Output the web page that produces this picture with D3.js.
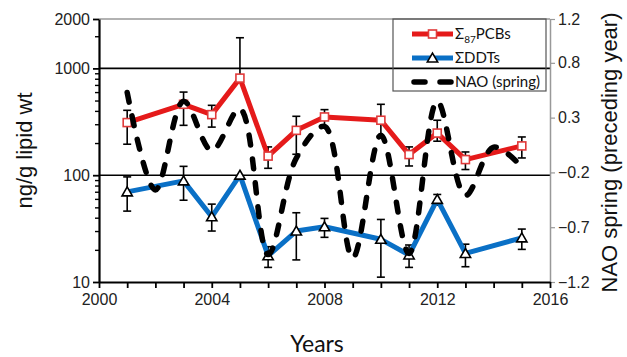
<!DOCTYPE html>
<html><head><meta charset="utf-8">
<script src="https://cdn.jsdelivr.net/npm/d3@7/dist/d3.min.js"></script>
<style>body{margin:0;background:#fff} svg{display:block}</style>
</head><body><svg id="c" width="627" height="357"></svg>
<script>
// ---- data ----
const years   = [2001, 2003, 2004, 2005, 2006, 2007, 2008, 2010, 2011, 2012, 2013, 2015];
const pcb     = [311, 461, 369, 811, 151, 263, 351, 327, 156, 248, 140, 188];
const pcbLow  = [195, 293, 282, null, 116, 157, 279, 230, 122, 208, 113, 145];
const pcbHigh = [405, 600, 451, 1936, 184, 356, 411, 461, 184, 327, 165, 228];
const ddt     = [69.8, 88.5, 40.8, 100, 17.6, 30.0, 32.9, 25.1, 17.9, 59.3, 18.5, 25.9];
const ddtLow  = [46.1, 58.3, 30.0, null, 13.7, 16.1, 26.2, 11.1, 13.7, 52.5, 13.9, 20.2];
const ddtHigh = [96.4, 121, 53.6, null, 21.4, 44.5, 39.4, 38.5, 22.2, 66.0, 22.6, 31.3];
const naoYears = [2001, 2002, 2003, 2004, 2005, 2006, 2007, 2008, 2009, 2010, 2011, 2012, 2013, 2014, 2015];
const nao      = [0.53, -0.36, 0.45, 0.0, 0.38, -0.95, -0.07, 0.22, -0.98, 0.14, -0.94, 0.45, -0.41, 0.03, -0.15];
const xLabelTicks = [2000, 2004, 2008, 2012, 2016];
const xMinorTicks = d3.range(2000, 2017);
const leftTickValues = [10, 100, 1000, 2900];
const leftTickLabels = ["10", "100", "1000", "2000"];
const leftMinorTicks = [20,30,40,50,60,70,80,90,200,300,400,500,600,700,800,900,2000];
const rightTicks = [-1.2, -0.7, -0.2, 0.3, 0.8, 1.2];
const legendLabels = ["PCBs", "ΣDDTs", "NAO (spring)"];

// ---- layout ----
const L = 99, R = 550, T = 19, B = 282;
const svg = d3.select("#c");
const x = d3.scaleLinear().domain([2000, 2016]).range([L, R]);
const yL = d3.scaleLog().domain([10, 2900]).range([B, T]);
const yR = d3.scaleLinear().domain([-1.2, 1.2]).range([B, T]);

const AX = "'Liberation Sans', Arial, sans-serif";
const CAL = "Lato, 'Open Sans', sans-serif";

// frame (top, gray)
svg.append("line").attr("x1", L).attr("x2", R).attr("y1", T).attr("y2", T)
  .attr("stroke", "#999").attr("stroke-width", 1.5);

// gridlines at 100 and 1000
svg.append("g").selectAll("line").data([100, 1000]).join("line")
  .attr("x1", L).attr("x2", R).attr("y1", d => yL(d)).attr("y2", d => yL(d))
  .attr("stroke", "#000").attr("stroke-width", 1.6);

// legend box
const lg = svg.append("g");
lg.append("rect").attr("x", 393).attr("y", T).attr("width", 153).attr("height", 72)
  .attr("fill", "none").attr("stroke", "#555").attr("stroke-width", 1.2);

// right axis
const gR = svg.append("g").attr("transform", `translate(${R},0)`)
  .call(d3.axisRight(yR).tickValues(rightTicks).tickFormat(d3.format(".1f")).tickSize(5).tickSizeOuter(0).tickPadding(3));
gR.select(".domain").attr("stroke", "#999").attr("stroke-width", 1.5);
gR.selectAll(".tick line").attr("stroke", "#999").attr("stroke-width", 1.2);
gR.selectAll("text").attr("font-family", AX).attr("font-size", 16).attr("fill", "#222");

// left axis
const gL = svg.append("g").attr("transform", `translate(${L},0)`)
  .call(d3.axisLeft(yL).tickValues(leftTickValues).tickFormat((d, i) => leftTickLabels[i]).tickSize(6).tickSizeOuter(0).tickPadding(3));
gL.select(".domain").attr("stroke", "#000").attr("stroke-width", 2.2);
gL.selectAll(".tick line").attr("stroke", "#000").attr("stroke-width", 1.8);
gL.selectAll("text").attr("font-family", AX).attr("font-size", 16).attr("fill", "#222");
const gLm = svg.append("g").attr("transform", `translate(${L},0)`)
  .call(d3.axisLeft(yL).tickValues(leftMinorTicks).tickFormat("").tickSize(4).tickSizeOuter(0));
gLm.select(".domain").remove();
gLm.selectAll(".tick line").attr("stroke", "#000").attr("stroke-width", 1.4);

// x axis
const gX = svg.append("g").attr("transform", `translate(0,${B})`)
  .call(d3.axisBottom(x).tickValues(xMinorTicks).tickFormat(d => xLabelTicks.includes(d) ? String(d) : "").tickSize(6).tickSizeOuter(0).tickPadding(6));
gX.select(".domain").attr("stroke", "#000").attr("stroke-width", 2.2);
gX.selectAll(".tick line").attr("stroke", "#000").attr("stroke-width", 1.8);
gX.selectAll("text").attr("font-family", AX).attr("font-size", 16).attr("fill", "#222");

// axis titles
svg.append("text").attr("transform", `translate(32,${(T + B) / 2 + 0}) rotate(-90)`)
  .attr("text-anchor", "middle").attr("font-family", AX).attr("font-size", 22).attr("fill", "#111")
  .text("ng/g lipid wt");
svg.append("text").attr("transform", `translate(617,${(T + B) / 2 + 2}) rotate(-90)`)
  .attr("text-anchor", "middle").attr("font-family", AX).attr("font-size", 22).attr("fill", "#111")
  .text("NAO spring (preceding year)");
svg.append("text").attr("x", 317).attr("y", 352).attr("text-anchor", "middle")
  .attr("font-family", CAL).attr("font-size", 23).attr("fill", "#111").text("Years");

// error bars helper
function errorBars(g, vals, lows, highs) {
  const cap = 4;
  years.forEach((yr, i) => {
    const cx = x(yr);
    const hi = highs[i] != null ? highs[i] : vals[i];
    const lo = lows[i] != null ? lows[i] : vals[i];
    if (highs[i] == null && lows[i] == null) return;
    g.append("line").attr("x1", cx).attr("x2", cx).attr("y1", yL(lo)).attr("y2", yL(hi))
      .attr("stroke", "#000").attr("stroke-width", 1.6);
    if (highs[i] != null) g.append("line").attr("x1", cx - cap).attr("x2", cx + cap)
      .attr("y1", yL(hi)).attr("y2", yL(hi)).attr("stroke", "#000").attr("stroke-width", 1.6);
    if (lows[i] != null) g.append("line").attr("x1", cx - cap).attr("x2", cx + cap)
      .attr("y1", yL(lo)).attr("y2", yL(lo)).attr("stroke", "#000").attr("stroke-width", 1.6);
  });
}

const RED = "#e51a1a", BLUE = "#0a70c6";
const tri = d3.symbol().type(d3.symbolTriangle).size(46);

// PCB series
const gP = svg.append("g");
errorBars(gP, pcb, pcbLow, pcbHigh);
gP.append("path").datum(years.map((yr, i) => [yr, pcb[i]]))
  .attr("d", d3.line().x(d => x(d[0])).y(d => yL(d[1])))
  .attr("fill", "none").attr("stroke", RED).attr("stroke-width", 5).attr("stroke-linejoin", "round");
gP.selectAll("rect").data(years).join("rect")
  .attr("x", (d) => x(d) - 4).attr("y", (d, i) => yL(pcb[i]) - 4).attr("width", 8).attr("height", 8)
  .attr("fill", "#fff").attr("stroke", "#e03a3a").attr("stroke-width", 1.6);

// DDT series
const gD = svg.append("g");
errorBars(gD, ddt, ddtLow, ddtHigh);
gD.append("path").datum(years.map((yr, i) => [yr, ddt[i]]))
  .attr("d", d3.line().x(d => x(d[0])).y(d => yL(d[1])))
  .attr("fill", "none").attr("stroke", BLUE).attr("stroke-width", 5).attr("stroke-linejoin", "round");
gD.selectAll("path.m").data(years).join("path").attr("class", "m")
  .attr("d", tri).attr("transform", (d, i) => `translate(${x(d)},${yL(ddt[i]) + 1})`)
  .attr("fill", "#fff").attr("stroke", "#000").attr("stroke-width", 1.6);

// NAO series
svg.append("path").datum(naoYears.map((yr, i) => [yr, nao[i]]))
  .attr("d", d3.line().x(d => x(d[0])).y(d => yR(d[1])).curve(d3.curveCatmullRom.alpha(0.5)))
  .attr("fill", "none").attr("stroke", "#000").attr("stroke-width", 5.5)
  .attr("stroke-dasharray", "10,14").attr("stroke-linecap", "round");

// legend entries
const lx1 = 412, lx2 = 453, tx = 455;
const ly = [34, 58, 82];
lg.append("line").attr("x1", lx1).attr("x2", lx2).attr("y1", ly[0]).attr("y2", ly[0])
  .attr("stroke", RED).attr("stroke-width", 5);
lg.append("rect").attr("x", (lx1 + lx2) / 2 - 4).attr("y", ly[0] - 4).attr("width", 8).attr("height", 8)
  .attr("fill", "#fff").attr("stroke", "#e03a3a").attr("stroke-width", 1.6);
lg.append("line").attr("x1", lx1).attr("x2", lx2).attr("y1", ly[1]).attr("y2", ly[1])
  .attr("stroke", BLUE).attr("stroke-width", 5);
lg.append("path").attr("d", tri).attr("transform", `translate(${(lx1 + lx2) / 2},${ly[1] + 1})`)
  .attr("fill", "#fff").attr("stroke", "#000").attr("stroke-width", 1.6);
lg.append("line").attr("x1", lx1 + 2).attr("x2", lx2).attr("y1", ly[2]).attr("y2", ly[2])
  .attr("stroke", "#000").attr("stroke-width", 5.5).attr("stroke-dasharray", "11,15").attr("stroke-linecap", "round");

const FS = 15;
const t0 = lg.append("text").attr("x", tx).attr("y", ly[0] + 5).attr("font-family", CAL).attr("font-size", FS).attr("fill", "#111");
t0.append("tspan").text("Σ");
t0.append("tspan").attr("dy", 4).attr("font-size", 10).text("87");
t0.append("tspan").attr("dy", -4).text(legendLabels[0]);
lg.append("text").attr("x", tx).attr("y", ly[1] + 5).attr("font-family", CAL).attr("font-size", FS).attr("fill", "#111").text(legendLabels[1]);
lg.append("text").attr("x", tx).attr("y", ly[2] + 5).attr("font-family", CAL).attr("font-size", FS).attr("fill", "#111").text(legendLabels[2]);
</script>
</body></html>
